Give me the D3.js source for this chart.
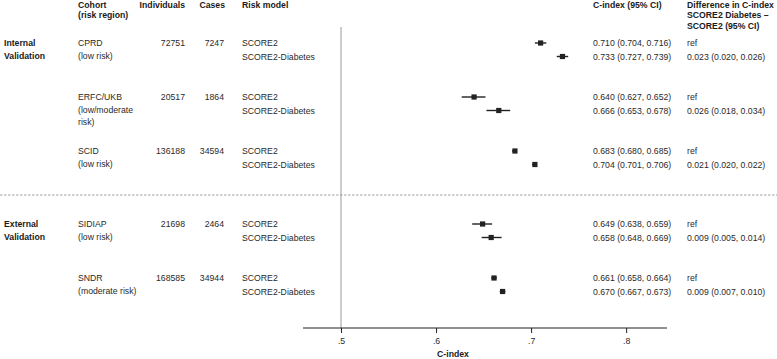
<!DOCTYPE html>
<html>
<head>
<meta charset="utf-8">
<script src="https://cdn.jsdelivr.net/npm/d3@7"></script>
<style>
  body { margin: 0; background: #fff; }
  svg { font-family: "Liberation Sans", Arial, sans-serif; font-size: 8.7px; fill: #2a2a2a; }
  .hd { font-weight: bold; fill: #1a1a1a; }
</style>
</head>
<body>
<svg id="chart" width="777" height="359"></svg>
<script>
// data
var sections = [["Internal", "Validation"], ["External", "Validation"]];
var sectionOf = [0, 0, 0, 1, 1];
var cohorts = ["CPRD", "ERFC/UKB", "SCID", "SIDIAP", "SNDR"];
var regions = [["(low risk)"], ["(low/moderate", "risk)"], ["(low risk)"], ["(low risk)"], ["(moderate risk)"]];
var individuals = [72751, 20517, 136188, 21698, 168585];
var cases = [7247, 1864, 34594, 2464, 34944];
var models = ["SCORE2", "SCORE2-Diabetes"];
// [estimate, lower, upper]
var cScore2 = [[0.710, 0.704, 0.716], [0.640, 0.627, 0.652], [0.683, 0.680, 0.685], [0.649, 0.638, 0.659], [0.661, 0.658, 0.664]];
var cScore2Dm = [[0.733, 0.727, 0.739], [0.666, 0.653, 0.678], [0.704, 0.701, 0.706], [0.658, 0.648, 0.669], [0.670, 0.667, 0.673]];
var diffs = [[0.023, 0.020, 0.026], [0.026, 0.018, 0.034], [0.021, 0.020, 0.022], [0.009, 0.005, 0.014], [0.009, 0.007, 0.010]];
var xTicks = [0.5, 0.6, 0.7, 0.8];
var xTickLabels = [".5", ".6", ".7", ".8"];

var svg = d3.select("#chart");
var f3 = d3.format(".3f");
var ci = function(d) { return f3(d[0]) + " (" + f3(d[1]) + ", " + f3(d[2]) + ")"; };

var x = d3.scaleLinear().domain([0.46, 0.843]).range([303, 667]);

// cohort block top rows
var groupY = function(i) { return 43 + i * 54 + (sectionOf[i] === 1 ? 19 : 0); };
var rowStep = 13.5, lineStep = 12.5, base = 3;
var axisY = 328;

// headers
var headers = [
  {x: 78, anchor: "start", lines: ["Cohort", "(risk region)"]},
  {x: 185, anchor: "end", lines: ["Individuals"]},
  {x: 225, anchor: "end", lines: ["Cases"]},
  {x: 242, anchor: "start", lines: ["Risk model"]},
  {x: 593, anchor: "start", lines: ["C-index (95% CI)"]},
  {x: 687, anchor: "start", lines: ["Difference in C-index", "SCORE2 Diabetes \u2013", "SCORE2 (95% CI)"]}
];
headers.forEach(function(h) {
  h.lines.forEach(function(l, k) {
    svg.append("text").attr("class", "hd").attr("x", h.x).attr("y", 7.5 + k * 10.6)
      .attr("text-anchor", h.anchor).text(l);
  });
});

// reference line at .5 and section divider
svg.append("line").attr("x1", x(0.5)).attr("x2", x(0.5)).attr("y1", 27).attr("y2", axisY)
  .attr("stroke", "#9a9a9a").attr("stroke-width", 1);
svg.append("line").attr("x1", 0).attr("x2", 777).attr("y1", 195).attr("y2", 195)
  .attr("stroke", "#8a8a8a").attr("stroke-width", 0.8).attr("stroke-dasharray", "2.5,1.5");

// section labels
sections.forEach(function(s, si) {
  var gi = sectionOf.indexOf(si);
  s.forEach(function(l, k) {
    svg.append("text").attr("class", "hd").attr("x", 4).attr("y", groupY(gi) + k * lineStep + base).text(l);
  });
});

// cohort rows
cohorts.forEach(function(c, i) {
  var y0 = groupY(i);
  var g = svg.append("g");
  [c].concat(regions[i]).forEach(function(l, k) {
    g.append("text").attr("x", 78).attr("y", y0 + k * lineStep + base).text(l);
  });
  g.append("text").attr("x", 185).attr("y", y0 + base).attr("text-anchor", "end").text(individuals[i]);
  g.append("text").attr("x", 224).attr("y", y0 + base).attr("text-anchor", "end").text(cases[i]);

  var vals = [cScore2[i], cScore2Dm[i]];
  models.forEach(function(m, k) {
    var yy = y0 + k * rowStep;
    g.append("text").attr("x", 242).attr("y", yy + base).text(m);
    g.append("text").attr("x", 593).attr("y", yy + base).text(ci(vals[k]));
    g.append("text").attr("x", 687).attr("y", yy + base).text(k === 0 ? "ref" : ci(diffs[i]));
    g.append("line").attr("x1", x(vals[k][1])).attr("x2", x(vals[k][2]))
      .attr("y1", yy).attr("y2", yy).attr("stroke", "#222").attr("stroke-width", 1.4);
    g.append("rect").attr("x", x(vals[k][0]) - 2.6).attr("y", yy - 2.6)
      .attr("width", 5.2).attr("height", 5.2).attr("fill", "#222");
  });
});

// x axis
var axis = svg.append("g").attr("transform", "translate(0," + axisY + ")")
  .call(d3.axisBottom(x).tickValues(xTicks).tickSize(5).tickPadding(5)
    .tickFormat(function(d, i) { return xTickLabels[i]; }));
axis.select(".domain").attr("stroke", "#222").attr("d", "M" + x.range()[0] + ",0H" + x.range()[1]);
axis.selectAll(".tick line").attr("stroke", "#222");
axis.selectAll(".tick text").attr("fill", "#2a2a2a").style("font-family", "Liberation Sans, Arial, sans-serif").style("font-size", "8.7px");
svg.append("text").attr("class", "hd").attr("x", 453).attr("y", 357).attr("text-anchor", "middle").text("C-index");
</script>
</body>
</html>
